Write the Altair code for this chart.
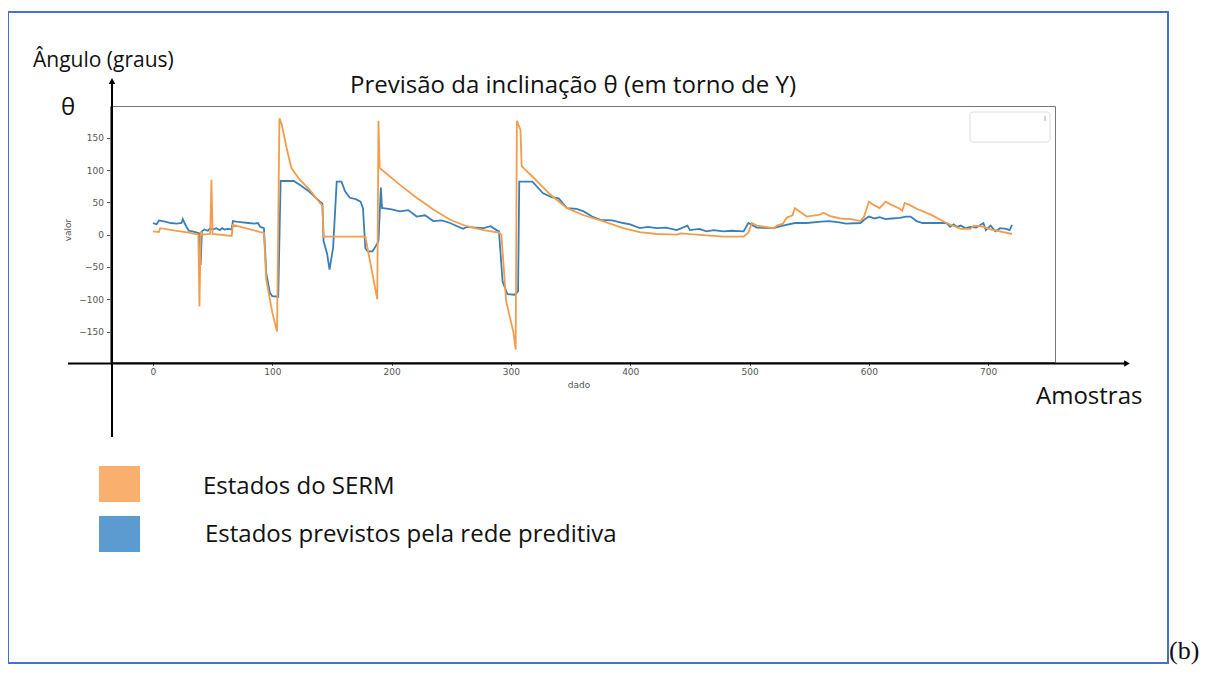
import altair as alt
import pandas as pd

# ---------------- data ----------------
serm_x = [0, 5, 6, 20, 30, 38, 39, 40, 41, 48, 49, 50, 66, 67, 90, 93, 95, 100, 104, 106,
          108, 112, 116, 123, 131, 140, 142, 143, 178, 188, 189, 190, 207, 221, 235, 249, 263, 277, 290, 292,
          296, 302, 304, 305, 308, 309, 319, 333, 347, 361, 377, 394, 408, 422, 439, 442, 464, 478, 495, 499,
          502, 506, 520, 523, 528, 531, 536, 538, 548, 559, 562, 567, 576, 585, 593, 596, 600, 604, 609, 614,
          619, 626, 628, 630, 634, 640, 652, 665, 677, 685, 688, 694, 702, 720]
serm_y = [5, 4, 10, 6, 3, 0, -111, 5, 0, 1, 85, 1, -2, 15, 4, 3, -70, -120, -150, 180,
          170, 134, 103, 85, 70, 49, 45, -3, -3, -100, 176, 103, 77, 57, 39, 23, 13, 7, 3, 0,
          -103, -150, -178, 176, 162, 106, 88, 62, 41, 30, 21, 10, 4, 1, 0, 2, -1, -3, -3, 3,
          18, 14, 10, 14, 17, 26, 30, 41, 28, 31, 34, 29, 25, 24, 21, 28, 51, 46, 41, 51,
          46, 40, 37, 49, 46, 40, 31, 18, 9, 9, 14, 13, 8, 1]

rede_x = [0, 3, 5, 10, 15, 20, 24, 25, 27, 30, 33, 37, 39, 40, 41, 43, 46, 48, 50, 53,
          56, 58, 60, 63, 66, 67, 70, 75, 80, 85, 88, 90, 93, 95, 98, 100, 105, 107, 118, 123,
          130, 140, 142, 143, 146, 148, 151, 154, 158, 161, 165, 170, 174, 176, 178, 180, 184, 187, 189, 191,
          192, 193, 200, 207, 214, 221, 228, 235, 242, 249, 255, 260, 263, 270, 277, 283, 288, 290, 293, 297,
          303, 306, 307, 318, 327, 334, 340, 347, 355, 361, 368, 375, 385, 394, 400, 408, 415, 422, 430, 439,
          448, 450, 458, 464, 470, 478, 485, 495, 499, 506, 520, 528, 538, 548, 560, 567, 575, 581, 593, 596,
          600, 605, 609, 614, 619, 626, 631, 635, 640, 645, 665, 668, 671, 674, 677, 681, 685, 690, 696, 698,
          702, 706, 710, 715, 718, 720]
rede_y = [18, 16, 22, 20, 18, 17, 18, 24, 16, 6, 5, 3, 2, -47, 5, 8, 6, 10, 8, 10,
          7, 10, 8, 9, 8, 21, 20, 19, 18, 17, 18, 12, 10, -60, -90, -95, -96, 83, 83, 77,
          68, 51, 48, -10, -30, -54, -20, 82, 82, 67, 57, 55, 51, 41, -21, -26, -26, -17, -10, 73,
          41, 41, 39, 36, 38, 28, 30, 21, 22, 18, 13, 9, 12, 11, 10, 13, 7, 5, -72, -92,
          -93, -88, 82, 82, 64, 58, 56, 41, 40, 36, 28, 23, 22, 18, 16, 10, 12, 10, 11, 7,
          14, 7, 9, 5, 7, 5, 6, 5, 18, 11, 10, 14, 18, 18, 20, 21, 19, 17, 18, 23,
          28, 25, 27, 24, 25, 26, 28, 28, 21, 18, 18, 12, 16, 12, 14, 10, 12, 11, 18, 7,
          14, 5, 10, 9, 7, 15]

x_ticks = [0, 100, 200, 300, 400, 500, 600, 700]
y_ticks = [-150, -100, -50, 0, 50, 100, 150]
series_names = ["Estados do SERM", "Estados previstos pela rede preditiva"]
title_text = "Previsão da inclinação θ (em torno de Y)"
y_label = "Ângulo (graus)"
x_label = "Amostras"
theta_label = "θ"
inner_x_title = "dado"
inner_y_title = "valor"
panel_tag = "(b)"

# ---------------- layout / style ----------------
W, H = 945, 256
X0, Y0 = 110, 106          # page position of the plot area's top-left corner


def px(x):
    return x - X0


def py(y):
    return y - Y0


FONT = "Open Sans"
ORANGE = "#f39d4c"
BLUE = "#3b7fb7"
ORANGE_SQ = "#f9b06e"
BLUE_SQ = "#5b9bcf"
BORDER = "#4472c4"

df_serm = pd.DataFrame({"dado": serm_x, "valor": serm_y, "serie": series_names[0]})
df_rede = pd.DataFrame({"dado": rede_x, "valor": rede_y, "serie": series_names[1]})
one = pd.DataFrame({"k": [0]})

xs = alt.Scale(domain=[-36, 756], nice=False, zero=False)
ys = alt.Scale(domain=[-197, 199], nice=False, zero=False)

x_axis = alt.Axis(values=x_ticks, title=None, domain=False, grid=False, tickSize=3.5,
                  tickColor="#555", labelColor="#555", labelFontSize=9, labelFont="DejaVu Sans",
                  labelPadding=2)
y_axis = alt.Axis(values=y_ticks, title=None, domain=False, grid=False, tickSize=3.5,
                  tickColor="#555", labelColor="#555", labelFontSize=9, labelFont="DejaVu Sans",
                  labelPadding=3)

enc = dict(x=alt.X("dado:Q", scale=xs, axis=x_axis), y=alt.Y("valor:Q", scale=ys, axis=y_axis))

line_rede = alt.Chart(df_rede).mark_line(color=BLUE, strokeWidth=1.8).encode(**enc)
line_serm = alt.Chart(df_serm).mark_line(color=ORANGE, strokeWidth=1.8).encode(**enc)


def txt(text, x, y, size, align="left", color="#111", font=FONT, angle=0, baseline="alphabetic"):
    return alt.Chart(one).mark_text(text=text, fontSize=size, font=font, align=align,
                                    baseline=baseline, color=color, angle=angle).encode(
        x=alt.value(x), y=alt.value(y))


def rect(x1, x2, y1, y2, **kw):
    return alt.Chart(one).mark_rect(**kw).encode(
        x=alt.value(x1), x2=alt.value(x2), y=alt.value(y1), y2=alt.value(y2))


layers = [
    # empty matplotlib legend box
    rect(px(970), px(1050), py(112), py(142), fill="white", stroke="#dedede", strokeWidth=1, cornerRadius=3),
    alt.Chart(one).mark_rule(color="#aaa", strokeWidth=1).encode(
        x=alt.value(px(1045)), y=alt.value(py(116)), y2=alt.value(py(121))),
    line_rede,
    line_serm,
    # inner axis titles
    txt(inner_x_title, px(579), py(388), 9, align="center", color="#555", font="DejaVu Sans"),
    txt(inner_y_title, px(71), py(230), 9, align="center", color="#555", font="DejaVu Sans", angle=270),
    # black arrows
    alt.Chart(one).mark_rule(color="black", strokeWidth=2).encode(
        x=alt.value(px(112)), y=alt.value(py(437)), y2=alt.value(py(82))),
    alt.Chart(one).mark_point(shape="triangle-up", filled=True, color="black", opacity=1, size=45).encode(
        x=alt.value(px(112)), y=alt.value(py(81))),
    alt.Chart(one).mark_rule(color="black", strokeWidth=2).encode(
        x=alt.value(px(68)), x2=alt.value(px(1126)), y=alt.value(py(363.5))),
    alt.Chart(one).mark_point(shape="triangle-right", filled=True, color="black", opacity=1, size=45).encode(
        x=alt.value(px(1127)), y=alt.value(py(363.5))),
    # texts
    txt(title_text, px(573), py(93), 24, align="center"),
    txt(y_label, px(33), py(67), 21),
    txt(theta_label, px(68), py(115), 24, align="center"),
    txt(x_label, px(1036), py(404), 24),
    # bottom legend
    rect(px(99), px(140), py(466), py(502), fill=ORANGE_SQ),
    rect(px(99), px(140), py(516), py(552), fill=BLUE_SQ),
    txt(series_names[0], px(203), py(494), 24),
    txt(series_names[1], px(205), py(542), 24),
    # blue border and panel tag
    rect(px(8), px(1168), py(12), py(663), fillOpacity=0, stroke=BORDER, strokeWidth=2),
    txt(panel_tag, px(1169), py(659), 26, font="Liberation Serif"),
]

chart = alt.layer(*layers).properties(
    width=W, height=H,
    padding={"left": X0 - 8, "top": Y0 - 8, "right": 1201 - (X0 - 8) - W, "bottom": 657 - (Y0 - 8) - H},
    autosize=alt.AutoSizeParams(type="none"),
    background="white",
).configure_view(stroke="#777", strokeWidth=1)

chart.save("out.html", embed_options={"renderer": "svg", "actions": False})
